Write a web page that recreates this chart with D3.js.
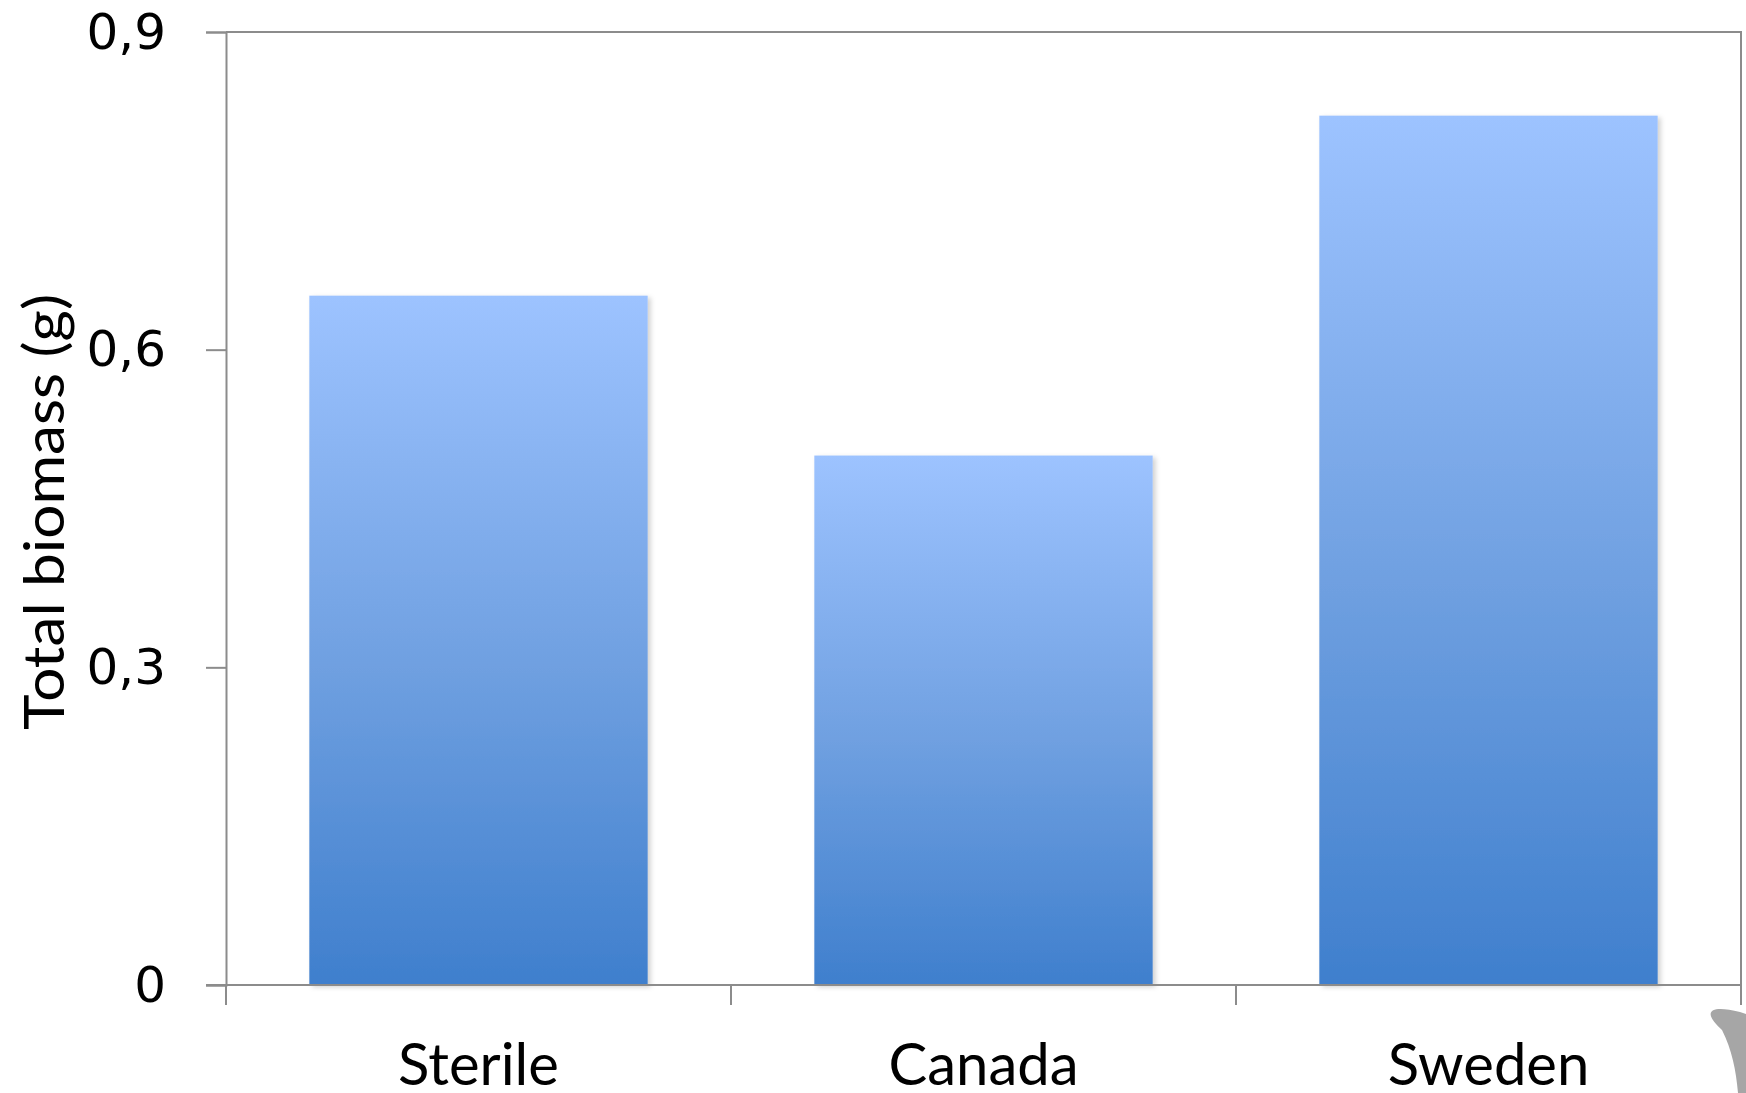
<!DOCTYPE html>
<html>
<head>
<meta charset="utf-8">
<script src="https://cdn.jsdelivr.net/npm/d3@7"></script>
<style>
  body { margin: 0; background: #fff; }
  svg { display: block; }
</style>
</head>
<body>
<div id="chart"></div>
<script>
// data
var categories = ["Sterile", "Canada", "Sweden"];
var biomass = [0.651, 0.500, 0.821];
var yTicks = [0, 0.3, 0.6, 0.9];
var yTickLabels = ["0", "0,3", "0,6", "0,9"];

var width = 1746, height = 1093;
var margin = { top: 32, right: 5, bottom: 108, left: 226 };

var svg = d3.select("#chart").append("svg")
    .attr("width", width)
    .attr("height", height);

var defs = svg.append("defs");

var grad = defs.append("linearGradient")
    .attr("id", "barFill")
    .attr("x1", 0).attr("y1", 0)
    .attr("x2", 0).attr("y2", 1);
grad.append("stop").attr("offset", "0%").attr("stop-color", "#9dc3ff");
grad.append("stop").attr("offset", "55%").attr("stop-color", "#6e9fe0");
grad.append("stop").attr("offset", "100%").attr("stop-color", "#3f7fcd");

var shadow = defs.append("filter")
    .attr("id", "shadow")
    .attr("x", "-5%").attr("y", "-5%")
    .attr("width", "115%").attr("height", "115%");
shadow.append("feDropShadow")
    .attr("dx", 3).attr("dy", 2)
    .attr("stdDeviation", 2.5)
    .attr("flood-color", "#000")
    .attr("flood-opacity", 0.18);

var x = d3.scaleBand()
    .domain(categories)
    .range([margin.left, width - margin.right])
    .paddingInner(0.33)
    .paddingOuter(0.165);

var y = d3.scaleLinear()
    .domain([0, 0.9])
    .range([height - margin.bottom, margin.top]);

var axisColor = "#8c8c8c";

// plot frame (top and right)
svg.append("path")
    .attr("d", "M" + margin.left + "," + y(0.9) + "H" + (width - margin.right) + "V" + y(0))
    .attr("fill", "none")
    .attr("stroke", axisColor)
    .attr("stroke-width", 2);

// bars
svg.append("g").selectAll("rect")
    .data(categories)
    .enter().append("rect")
    .attr("x", function(d) { return x(d); })
    .attr("y", function(d, i) { return y(biomass[i]); })
    .attr("width", x.bandwidth())
    .attr("height", function(d, i) { return y(0) - y(biomass[i]); })
    .attr("fill", "url(#barFill)")
    .attr("filter", "url(#shadow)");

// y axis
var yAxis = svg.append("g")
    .attr("transform", "translate(" + margin.left + ",0)")
    .call(d3.axisLeft(y)
        .tickValues(yTicks)
        .tickFormat(function(d, i) { return yTickLabels[i]; })
        .tickSize(20)
        .tickPadding(40));
yAxis.select(".domain").attr("stroke", axisColor).attr("stroke-width", 2);
yAxis.selectAll(".tick line").attr("stroke", axisColor).attr("stroke-width", 2);
yAxis.selectAll(".tick text")
    .attr("fill", "#000")
    .style("font-family", "DejaVu Sans")
    .style("font-size", "50px");

// x axis: ticks at band boundaries
var xEdges = [margin.left].concat(categories.map(function(d) { return x(d) + x.bandwidth() + x.step() * 0.33 / 2; }));
var xAxisG = svg.append("g");
xAxisG.append("line")
    .attr("x1", margin.left - 20).attr("x2", width - margin.right)
    .attr("y1", y(0)).attr("y2", y(0))
    .attr("stroke", axisColor).attr("stroke-width", 2);
xAxisG.selectAll(".xtick")
    .data(xEdges)
    .enter().append("line")
    .attr("class", "xtick")
    .attr("x1", function(d) { return d; }).attr("x2", function(d) { return d; })
    .attr("y1", y(0)).attr("y2", y(0) + 20)
    .attr("stroke", axisColor).attr("stroke-width", 2);
xAxisG.selectAll(".xlabel")
    .data(categories)
    .enter().append("text")
    .attr("class", "xlabel")
    .attr("x", function(d) { return x(d) + x.bandwidth() / 2; })
    .attr("y", 1085)
    .attr("text-anchor", "middle")
    .style("font-family", "Lato")
    .style("font-size", "58px")
    .text(function(d) { return d; });

// y axis title
svg.append("text")
    .attr("transform", "translate(64," + 512 + ") rotate(-90)")
    .attr("text-anchor", "middle")
    .attr("textLength", 436)
    .attr("lengthAdjust", "spacingAndGlyphs")
    .style("font-family", "Lato")
    .style("font-size", "56px")
    .text("Total biomass (g)");

// grey blob in the lower right corner
svg.append("path")
    .attr("d", "M1722,1030 C1700,1010 1712,1005 1740,1012 L1746,1014 L1746,1093 L1738,1093 C1736,1070 1732,1050 1722,1030 Z")
    .attr("fill", "#a6a6a6");
</script>
</body>
</html>
